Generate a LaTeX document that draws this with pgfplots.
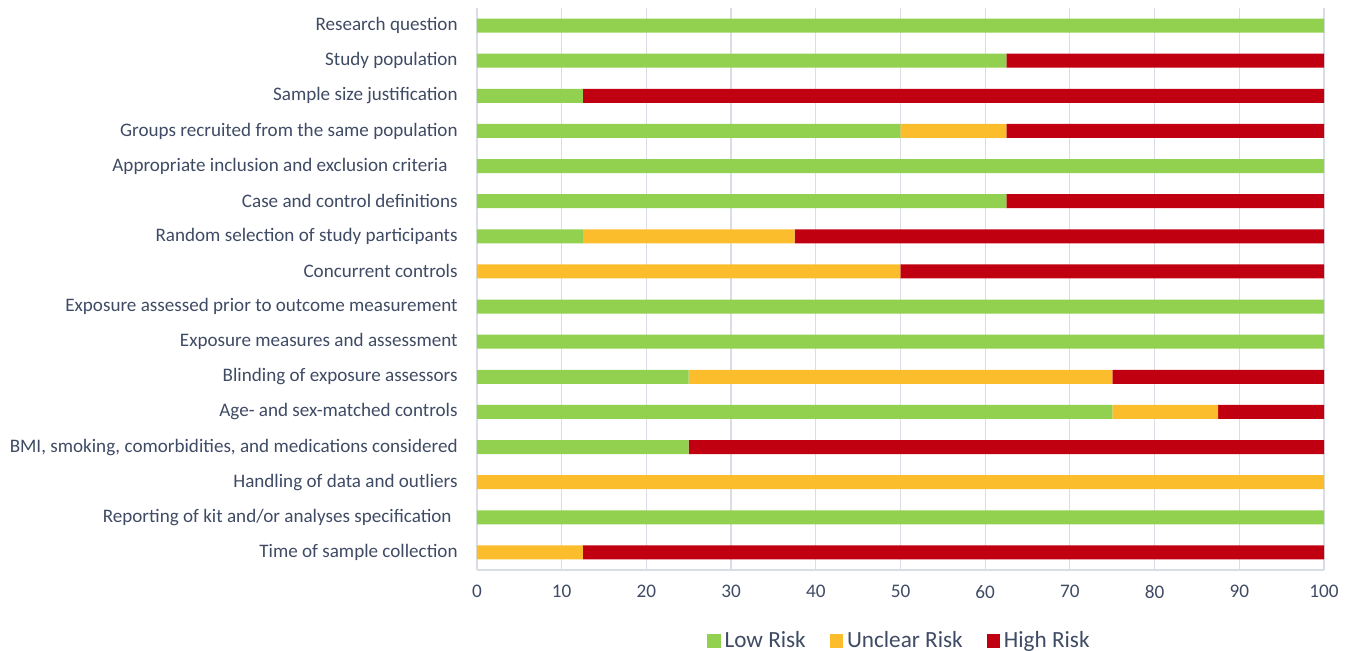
\documentclass[border=0pt]{standalone}
\usepackage{fontspec}
\setmainfont{Carlito}
\usepackage{pgfplots}
\usepackage{pgfplotstable}
\pgfplotsset{compat=1.18}

\definecolor{lowrisk}{HTML}{92D050}
\definecolor{unclear}{HTML}{FCBD2D}
\definecolor{highrisk}{HTML}{C00010}
\definecolor{gridc}{HTML}{D9DDE6}
\definecolor{txt}{HTML}{3F4B64}

% y: 0 = top item; low, unclear, high in percent
\pgfplotstableread{
y low unclear high
0 100 0 0
1 62.5 0 37.5
2 12.5 0 87.5
3 50 12.5 37.5
4 100 0 0
5 62.5 0 37.5
6 12.5 25 62.5
7 0 50 50
8 100 0 0
9 100 0 0
10 25 50 25
11 75 12.5 12.5
12 25 0 75
13 0 100 0
14 100 0 0
15 0 12.5 87.5
}\risk

\begin{document}
\begin{tikzpicture}[x=1pt,y=1pt]
\useasboundingbox (-238.5,-40.5) rectangle (439,285);
\begin{axis}[
    scale only axis,
    width=423.5pt, height=281pt,
    xbar stacked,
    bar width=0.4,
    xmin=0, xmax=100,
    ymin=-0.5, ymax=15.5,
    y dir=reverse,
    xtick={0,10,...,100},
    ytick={0,...,15},
    yticklabels={
        Research question,
        Study population,
        Sample size justification,
        Groups recruited from the same population,
        Appropriate inclusion and exclusion criteria\kern5pt\relax,
        Case and control definitions,
        Random selection of study participants,
        Concurrent controls,
        Exposure assessed prior to outcome measurement,
        Exposure measures and assessment,
        Blinding of exposure assessors,
        Age- and sex-matched controls,
        {BMI, smoking, comorbidities, and medications considered},
        Handling of data and outliers,
        Reporting of kit and/or analyses specification\kern3pt\relax,
        Time of sample collection},
    major tick length=0pt,
    xmajorgrids,
    grid style={gridc, line width=0.6pt},
    axis line style={gridc, line width=0.6pt},
    axis x line*=bottom,
    axis y line*=left,
    /pgf/number format/assume math mode=true,
    yticklabel style={font=\fontsize{9.55}{11}\selectfont, text=txt, inner sep=0pt, xshift=-9.5pt},
    xticklabel style={font=\fontsize{9.6}{11}\selectfont, text=txt, inner sep=0pt, yshift=-7.5pt},
    legend style={at={(axis description cs:0.5,0)}, yshift=-35.5pt, anchor=center,
        draw=none, font=\fontsize{11.6}{13}\selectfont, text=txt,
        /tikz/every even column/.append style={column sep=10pt}},
    legend columns=-1,
    legend image code/.code={\fill[#1] (0pt,-3.3pt) rectangle (6.6pt,3.3pt);},
]
\addplot[fill=lowrisk, draw=none] table[x=low, y=y] {\risk};
\addplot[fill=unclear, draw=none] table[x=unclear, y=y] {\risk};
\addplot[fill=highrisk, draw=none] table[x=high, y=y] {\risk};
\legend{Low Risk, Unclear Risk, High Risk}
\end{axis}
\end{tikzpicture}
\end{document}
